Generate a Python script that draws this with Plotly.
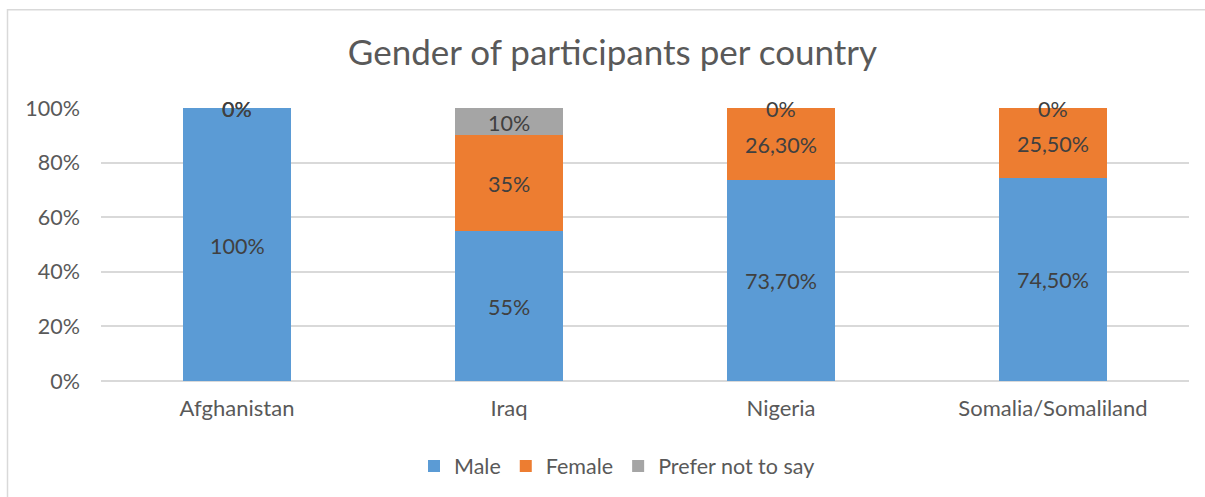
import plotly.graph_objects as go

countries = ["Afghanistan", "Iraq", "Nigeria", "Somalia/Somaliland"]
male = [100, 55, 73.7, 74.5]
female = [0, 35, 26.3, 25.5]
prefer_not = [0, 10, 0, 0]
male_labels = ["100%", "55%", "73,70%", "74,50%"]
female_labels = ["0%", "35%", "26,30%", "25,50%"]
prefer_labels = ["0%", "10%", "0%", "0%"]
y_ticks = [0, 20, 40, 60, 80, 100]
y_tick_labels = ["0%", "20%", "40%", "60%", "80%", "100%"]

FONT = "Lato"
series = [
    ("Male", male, male_labels, "#5B9BD5"),
    ("Female", female, female_labels, "#ED7D31"),
    ("Prefer not to say", prefer_not, prefer_labels, "#A5A5A5"),
]

fig = go.Figure()
base = [0.0] * len(countries)
annotations = []
for name, vals, labels, color in series:
    fig.add_trace(go.Bar(
        name=name, x=countries, y=vals, marker=dict(color=color, line=dict(width=0)),
        hoverinfo="skip",
    ))
    for c, b, v, lab in zip(countries, base, vals, labels):
        annotations.append(dict(
            x=c, y=b + v / 2, xref="x", yref="y", text=lab, showarrow=False,
            yshift=-1, xanchor="center", yanchor="middle",
            font=dict(family=FONT, size=21.5, color="#404040"),
        ))
    base = [b + v for b, v in zip(base, vals)]

L, R, T, B = 101, 1189, 108, 382
W, H = 1205, 497
pw, ph = R - L, B - T

def px_x(x):
    return (x - L) / pw

def px_y(y):
    return (B - y) / ph

fig.update_layout(
    width=W, height=H,
    margin=dict(l=L, r=W - R, t=T, b=H - B, pad=0),
    barmode="stack", bargap=0.6,
    paper_bgcolor="white", plot_bgcolor="white",
    font=dict(family=FONT, size=21.5, color="#595959"),
    title=dict(text="Gender of participants per country", x=(349 + 876) / 2 / W, xanchor="center",
               y=1 - 53 / H, yanchor="middle", font=dict(family=FONT, size=35, color="#595959")),
    showlegend=True,
    legend=dict(orientation="h", x=px_x(617), xanchor="center", y=px_y(466), yanchor="middle",
                font=dict(family=FONT, size=21.5, color="#595959"), traceorder="normal",
                itemwidth=30),
    annotations=annotations,
    xaxis=dict(showgrid=False, showline=False, ticks="", ticklabelstandoff=12,
               tickfont=dict(family=FONT, size=22, color="#595959")),
    yaxis=dict(range=[0, 100], tickvals=y_ticks, ticktext=y_tick_labels, showgrid=True,
               gridcolor="#D9D9D9", gridwidth=1.5, zeroline=True, zerolinecolor="#D9D9D9", zerolinewidth=1.5,
               showline=False, ticks="", ticklabelstandoff=20,
               tickfont=dict(family=FONT, size=21.5, color="#595959")),
    shapes=[dict(type="rect", xref="paper", yref="paper",
                 x0=px_x(7.5), x1=px_x(1215), y0=px_y(510), y1=px_y(9.5),
                 line=dict(color="#D9D9D9", width=1.5), fillcolor="rgba(0,0,0,0)", layer="below")],
)

fig.write_html("out.html")
